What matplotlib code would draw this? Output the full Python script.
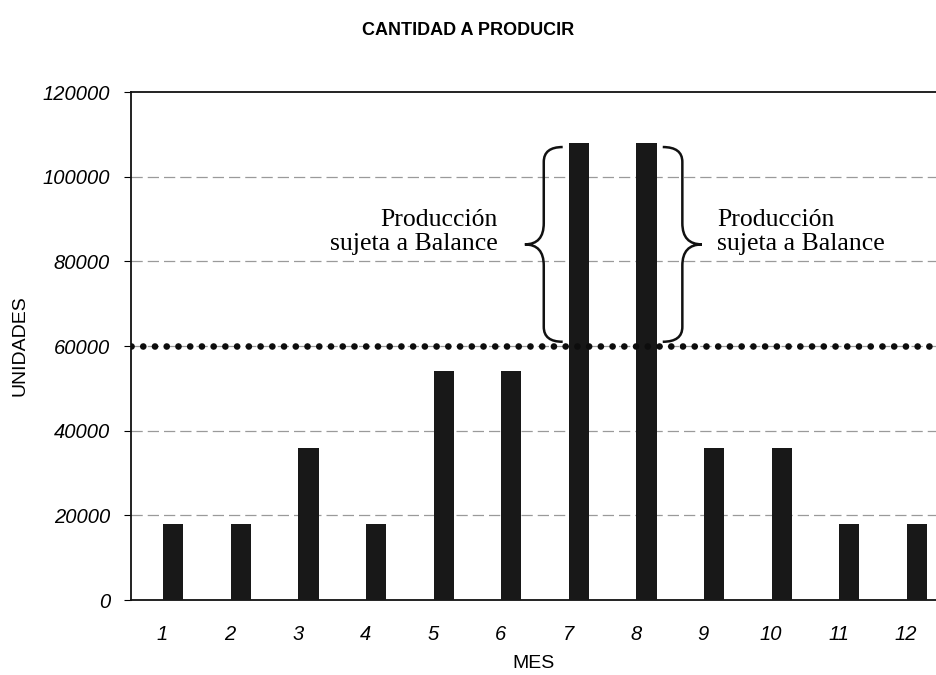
import matplotlib
import matplotlib.pyplot as plt
import numpy as np
from matplotlib.path import Path
from matplotlib.patches import PathPatch

matplotlib.rcParams["font.family"] = "Liberation Sans"

meses = [1, 2, 3, 4, 5, 6, 7, 8, 9, 10, 11, 12]
unidades = [18000, 18000, 36000, 18000, 54000, 54000,
            108000, 108000, 36000, 36000, 18000, 18000]
capacidad = 60000
y_ticks = [0, 20000, 40000, 60000, 80000, 100000, 120000]


def brace(ax, x_arm, x_tip, y_low, y_high, r=3500, r_mid=5000):
    # llave vertical: brazos en x_arm, punta en x_tip
    xm = (x_arm + x_tip) / 2
    ymid = (y_low + y_high) / 2
    verts = [
        (x_arm, y_high), (xm, y_high), (xm, y_high - r),
        (xm, ymid + r_mid),
        (xm, ymid), (x_tip, ymid),
        (xm, ymid), (xm, ymid - r_mid),
        (xm, y_low + r),
        (xm, y_low), (x_arm, y_low),
    ]
    codes = [Path.MOVETO, Path.CURVE3, Path.CURVE3,
             Path.LINETO,
             Path.CURVE3, Path.CURVE3,
             Path.CURVE3, Path.CURVE3,
             Path.LINETO,
             Path.CURVE3, Path.CURVE3]
    patch = PathPatch(Path(verts, codes), facecolor="none",
                      edgecolor="#111111", linewidth=1.8, zorder=4)
    ax.add_patch(patch)


fig = plt.figure(figsize=(9.37, 6.75), dpi=100)
fig.patch.set_facecolor("white")
ax = fig.add_axes([0.1398, 0.1111, 0.8602, 0.7526])

x = np.array(meses)

# grilla punteada gris
for v in y_ticks[1:-1]:
    ax.axhline(v, color="#9a9a9a", linewidth=0.9,
               linestyle=(0, (9, 4)), zorder=1)

ax.bar(x, unidades, width=0.3, color="#181818", zorder=3)

# línea de capacidad
ax.axhline(capacidad, color="#0d0d0d", linewidth=4.8,
           linestyle=(0, (0.01, 1.75)), dash_capstyle="round", zorder=5)

# llaves sobre los meses 7 y 8
brace(ax, 6.76, 6.20, capacidad + 1000, unidades[6] - 1000)
brace(ax, 8.24, 8.82, capacidad + 1000, unidades[7] - 1000)

texto = "Producción\nsujeta a Balance"
ax.text(5.80, 87000, texto, family="Liberation Serif", fontsize=18.5,
        ha="right", va="center", linespacing=1.1, zorder=6)
ax.text(9.04, 87000, texto, family="Liberation Serif", fontsize=18.5,
        ha="left", va="center", linespacing=1.1, zorder=6)

ax.set_xlim(0.374, 12.297)
ax.set_ylim(0, 120000)

ax.set_yticks(y_ticks)
ax.set_yticklabels([str(v) for v in y_ticks], fontstyle="italic", fontsize=14.5)
ax.tick_params(axis="y", direction="out", length=5, width=0.8, pad=10)

ax.set_xticks(x - 0.16)
ax.set_xticklabels([str(m) for m in meses], fontstyle="italic", fontsize=14.5)
ax.tick_params(axis="x", length=0, pad=18)

ax.set_xlabel("MES", fontsize=14, labelpad=8)
ax.set_ylabel("UNIDADES", fontsize=14, labelpad=10)

for side in ["left", "bottom", "top"]:
    ax.spines[side].set_color("#111111")
    ax.spines[side].set_linewidth(1.3)
ax.spines["right"].set_visible(False)

fig.text(0.4995, 0.955, "CANTIDAD A PRODUCIR", fontsize=13,
         fontweight="bold", ha="center", va="center")

fig.savefig("out.png", dpi=100, facecolor="white")
